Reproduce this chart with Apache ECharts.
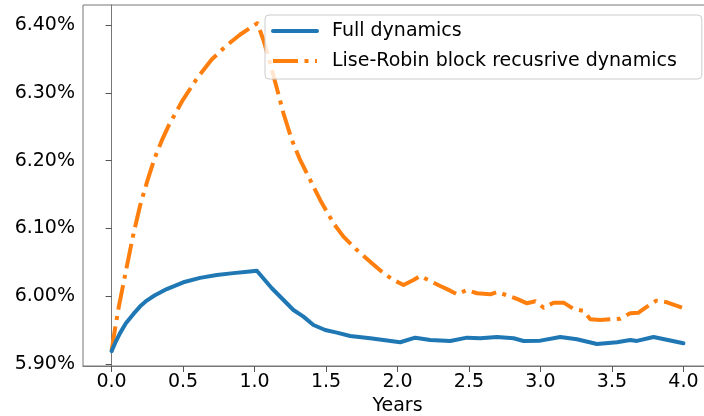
<!DOCTYPE html>
<html>
<head>
<meta charset="utf-8">
<script src="https://cdn.jsdelivr.net/npm/echarts@6/dist/echarts.min.js"></script>
<style>
html,body{margin:0;padding:0;background:#fff;}
#chart{width:704px;height:416px;}
</style>
</head>
<body>
<div id="chart"></div>
<script>
// ---- data (values in percent) ----
const seriesNames = ['Full dynamics', 'Lise-Robin block recusrive dynamics'];

const fullX = [0, 0.025, 0.059, 0.1, 0.153, 0.2, 0.246, 0.3, 0.386, 0.502, 0.619, 0.736, 0.852, 0.95, 1.016, 1.121, 1.272, 1.342, 1.412, 1.494, 1.576, 1.669, 1.809, 2.019, 2.124, 2.229, 2.369, 2.486, 2.579, 2.696, 2.812, 2.882, 2.999, 3.139, 3.255, 3.395, 3.535, 3.628, 3.675, 3.791, 4.0];
const fullY = [5.919, 5.931, 5.9455, 5.960, 5.9738, 5.985, 5.9935, 6.001, 6.0105, 6.0205, 6.027, 6.0312, 6.034, 6.036, 6.0375, 6.0117, 5.9796, 5.9698, 5.9575, 5.9501, 5.9462, 5.9413, 5.9379, 5.932, 5.9388, 5.9354, 5.9339, 5.9388, 5.9379, 5.9398, 5.9379, 5.9339, 5.9344, 5.9398, 5.9364, 5.9295, 5.932, 5.9354, 5.934, 5.9398, 5.9305];

const lrX = [0, 0.025, 0.05, 0.1, 0.15, 0.2, 0.25, 0.3, 0.35, 0.4, 0.5, 0.6, 0.7, 0.8, 0.9, 1.0, 1.02, 1.062, 1.109, 1.156, 1.202, 1.261, 1.319, 1.389, 1.459, 1.552, 1.622, 1.716, 1.809, 1.902, 1.972, 2.042, 2.112, 2.159, 2.229, 2.299, 2.369, 2.416, 2.486, 2.556, 2.649, 2.696, 2.766, 2.836, 2.906, 2.964, 3.022, 3.092, 3.162, 3.232, 3.302, 3.349, 3.419, 3.488, 3.558, 3.628, 3.686, 3.745, 3.810, 3.885, 3.990];
const lrY = [5.919, 5.953, 5.984, 6.037, 6.089, 6.134, 6.170, 6.203, 6.229, 6.252, 6.290, 6.322, 6.349, 6.369, 6.386, 6.400, 6.4025, 6.3779, 6.3435, 6.3066, 6.2698, 6.2304, 6.2009, 6.1714, 6.1419, 6.1075, 6.0878, 6.0681, 6.0509, 6.0338, 6.0239, 6.0165, 6.0239, 6.0298, 6.0224, 6.015, 6.0081, 6.0028, 6.0091, 6.0043, 6.0028, 6.0062, 6.0013, 5.9959, 5.9895, 5.9925, 5.983, 5.9904, 5.9904, 5.9811, 5.9782, 5.9659, 5.9649, 5.9659, 5.9668, 5.9748, 5.9757, 5.9845, 5.9934, 5.991, 5.983];

const xTicks = [0, 0.5, 1.0, 1.5, 2.0, 2.5, 3.0, 3.5, 4.0];
const yTicks = [5.90, 6.00, 6.10, 6.20, 6.30, 6.40];

// ---- chart ----
const FONT = 'DejaVu Sans';
const chart = echarts.init(document.getElementById('chart'), null, {renderer: 'canvas'});
const zip = (xs, ys) => xs.map((x, i) => [x, ys[i]]);

chart.setOption({
  animation: false,
  backgroundColor: '#fff',
  grid: {left: 83, top: 5, right: -8, bottom: 50, show: true, borderColor: '#777', borderWidth: 1,
         containLabel: false, outerBoundsMode: 'none'},
  legend: {
    data: seriesNames,
    orient: 'vertical',
    left: 265, top: 15,
    itemWidth: 44, itemHeight: 14, itemGap: 8,
    padding: [5, 25, 7, 6],
    backgroundColor: 'rgba(255,255,255,0.8)',
    borderColor: '#cccccc', borderWidth: 1, borderRadius: 4,
    itemStyle: {opacity: 0},
    lineStyle: {width: 4},
    textStyle: {fontFamily: FONT, fontSize: 19, color: '#000', lineHeight: 22, padding: [0, 0, 0, 10]}
  },
  xAxis: {
    type: 'value', min: -0.2, max: 4.2,
    name: 'Years', nameLocation: 'middle', nameGap: 29,
    nameTextStyle: {fontFamily: FONT, fontSize: 19, color: '#000'},
    axisLine: {show: true, lineStyle: {color: '#777', width: 1}},
    axisTick: {show: true, length: 6, lineStyle: {color: '#555'}, customValues: xTicks},
    axisLabel: {fontFamily: FONT, fontSize: 19, color: '#000', margin: 7, customValues: xTicks, formatter: v => v.toFixed(1)},
    splitLine: {show: false}
  },
  yAxis: {
    type: 'value', min: 5.897, max: 6.4295,
    axisLine: {show: true, lineStyle: {color: '#777', width: 1}},
    axisTick: {show: true, length: 6, lineStyle: {color: '#555'}, customValues: yTicks},
    axisLabel: {fontFamily: FONT, fontSize: 19, color: '#000', margin: 8, customValues: yTicks, formatter: v => v.toFixed(2) + '%'},
    splitLine: {show: false}
  },
  series: [
    {
      name: seriesNames[0], type: 'line', data: zip(fullX, fullY),
      symbol: 'none', showSymbol: false, z: 3,
      lineStyle: {color: '#1f77b4', width: 4, join: 'round', cap: 'round'},
      itemStyle: {color: '#1f77b4'}
    },
    {
      name: seriesNames[1], type: 'line', data: zip(lrX, lrY),
      symbol: 'none', showSymbol: false, z: 2,
      lineStyle: {color: '#ff7f0e', width: 4, type: [25, 6.5, 4, 6.5], cap: 'butt', join: 'round'},
      itemStyle: {color: '#ff7f0e'}
    }
  ]
});
</script>
</body>
</html>
